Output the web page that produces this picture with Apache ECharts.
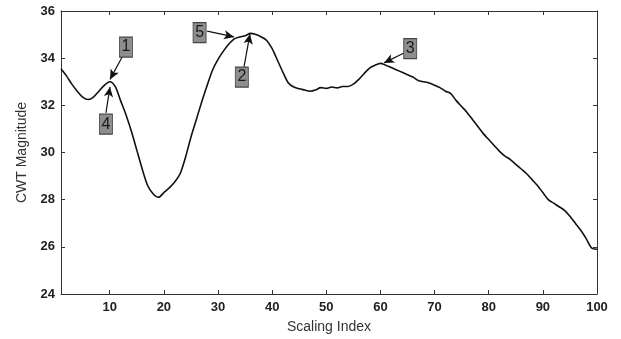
<!DOCTYPE html>
<html><head><meta charset="utf-8">
<script src="https://cdn.jsdelivr.net/npm/echarts@6/dist/echarts.min.js"></script>
<style>html,body{margin:0;padding:0;background:#fff}#c{width:621px;height:339px}</style>
</head><body><div id="c"></div>
<script>
const scalingIndex = Array.from({length: 100}, (_, k) => k + 1);
const cwtMagnitude = [
33.55,33.25,32.9,32.6,32.35,32.25,32.35,32.6,32.85,33.0,
32.8,32.2,31.6,30.9,30.1,29.3,28.6,28.25,28.1,28.3,
28.5,28.75,29.1,29.8,30.65,31.4,32.15,32.85,33.5,33.95,
34.3,34.6,34.82,34.9,34.95,35.05,35.0,34.9,34.75,34.4,
33.9,33.4,32.95,32.78,32.7,32.65,32.6,32.65,32.75,32.72,
32.78,32.74,32.8,32.8,32.9,33.1,33.35,33.58,33.7,33.78,
33.7,33.6,33.5,33.4,33.3,33.2,33.05,33.0,32.95,32.85,
32.75,32.6,32.5,32.2,31.95,31.7,31.4,31.1,30.8,30.55,
30.3,30.05,29.85,29.7,29.5,29.3,29.1,28.85,28.6,28.3,
28.0,27.85,27.7,27.55,27.3,27.0,26.7,26.35,25.95,25.9];
const xTicks = [10,20,30,40,50,60,70,80,90,100];
const yTicks = [24,26,28,30,32,34,36];
const annoLabels = ['1','4','5','2','3'];
const annoBox = [[13.0,34.47],[9.3,31.2],[26.6,35.08],[34.4,33.2],[65.5,34.4]];
const annoFrom = [[12.3,34.05],[9.3,31.68],[28.0,35.15],[34.8,33.63],[64.35,34.22]];
const annoTo = [[10.05,33.1],[10.05,32.78],[32.95,34.9],[35.9,35.02],[60.66,33.8]];

const chart = echarts.init(document.getElementById('c'));
const lab = {fontFamily:'Liberation Sans, Arial, sans-serif', fontSize:13, fontWeight:'bold', color:'#222'};
const axLine = {lineStyle:{color:'#333', width:1}};
chart.setOption({
  animation:false,
  backgroundColor:'#fff',
  grid:{left:61, right:24, top:11, bottom:45, containLabel:false},
  xAxis:[{
    type:'value', min:1, max:100, position:'bottom',
    name:'Scaling Index', nameLocation:'middle', nameGap:26,
    nameTextStyle:{fontFamily:'Liberation Sans, Arial, sans-serif', fontSize:14, color:'#333'},
    axisLine:axLine,
    axisTick:{inside:true, length:4, customValues:xTicks, lineStyle:{color:'#333'}},
    axisLabel:{...lab, customValues:xTicks, margin:7},
    splitLine:{show:false}
  },{
    type:'value', min:1, max:100, position:'top',
    axisLine:axLine,
    axisTick:{inside:true, length:4, customValues:xTicks, lineStyle:{color:'#333'}},
    axisLabel:{show:false}, splitLine:{show:false}
  }],
  yAxis:[{
    type:'value', min:24, max:36, interval:2, position:'left',
    name:'CWT Magnitude', nameLocation:'middle', nameGap:32, nameRotate:90,
    nameTextStyle:{fontFamily:'Liberation Sans, Arial, sans-serif', fontSize:14, color:'#333'},
    axisLine:{show:true, ...axLine},
    axisTick:{show:true, inside:true, length:4, lineStyle:{color:'#333'}},
    axisLabel:{...lab, margin:6},
    splitLine:{show:false}
  },{
    type:'value', min:24, max:36, interval:2, position:'right',
    axisLine:{show:true, ...axLine},
    axisTick:{show:true, inside:true, length:4, lineStyle:{color:'#333'}},
    axisLabel:{show:false}, splitLine:{show:false}
  }],
  series:[{
    type:'line',
    data: scalingIndex.map((x,i)=>[x, cwtMagnitude[i]]),
    showSymbol:false, smooth:0.3,
    lineStyle:{color:'#111', width:1.6},
    markLine:{
      silent:true, symbol:['none','arrow'], symbolSize:[7,10],
      label:{show:false},
      lineStyle:{color:'#111', width:1.2, type:'solid'},
      data: annoFrom.map((f,i)=>[{coord:f},{coord:annoTo[i]}])
    },
    markPoint:{
      silent:true, symbol:'rect', symbolSize:[13,20],
      itemStyle:{color:'#8e8e8e', borderColor:'#444', borderWidth:1},
      label:{show:true, fontFamily:'Liberation Sans, Arial, sans-serif', fontSize:16, color:'#1a1a1a', formatter:p=>p.name},
      data: annoBox.map((b,i)=>({name:annoLabels[i], coord:b}))
    }
  }]
});
</script></body></html>
